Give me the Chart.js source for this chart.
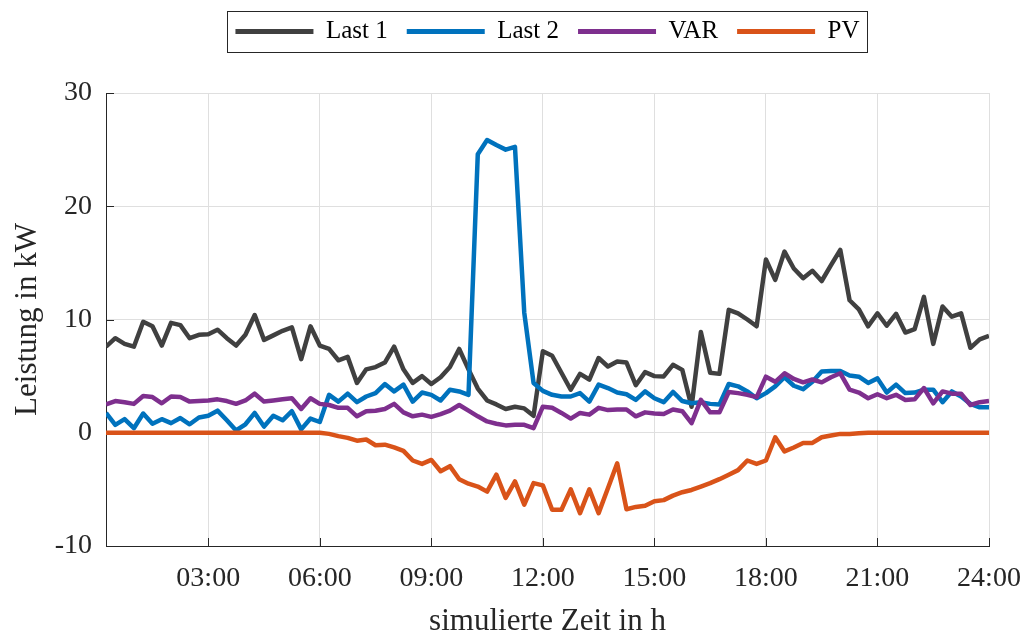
<!DOCTYPE html>
<html lang="de">
<head>
<meta charset="utf-8">
<title>Leistung über den Tag</title>
<script src="https://cdn.jsdelivr.net/npm/chart.js@4/dist/chart.umd.min.js"></script>
<style>
  html, body { margin: 0; padding: 0; background: #ffffff; }
  #wrap { width: 1024px; height: 640px; }
</style>
</head>
<body>
<div id="wrap"><canvas id="chart" width="1024" height="640"></canvas></div>
<script>
// Quarter-hour samples from 00:15 to 24:00 (96 values per series), in kW
const SLOT_HOURS = 0.25;

const lastOne = [
  7.6, 8.35, 7.85, 7.6, 9.8, 9.4, 7.7, 9.7, 9.5, 8.35, 8.65, 8.7,
  9.1, 8.35, 7.7, 8.65, 10.4, 8.2, 8.6, 9.0, 9.3, 6.5, 9.4, 7.7,
  7.4, 6.4, 6.7, 4.4, 5.6, 5.8, 6.2, 7.6, 5.6, 4.4, 5.0, 4.3,
  4.9, 5.8, 7.4, 5.6, 3.9, 2.85, 2.5, 2.1, 2.3, 2.15, 1.5, 7.2,
  6.8, 5.3, 3.8, 5.2, 4.7, 6.6, 5.85, 6.3, 6.2, 4.2, 5.35, 5.0,
  4.97, 6.0, 5.55, 2.3, 8.9, 5.3, 5.2, 10.85, 10.55, 10.0, 9.4, 15.3,
  13.5, 16.0, 14.5, 13.65, 14.3, 13.4, 14.8, 16.15, 11.7, 10.9, 9.4, 10.55,
  9.45, 10.5, 8.85, 9.15, 12.0, 7.85, 11.15, 10.25, 10.55, 7.5, 8.25, 8.55
];

const lastTwo = [
  1.75, 0.7, 1.2, 0.4, 1.7, 0.8, 1.2, 0.85, 1.3, 0.75, 1.35, 1.5,
  1.95, 1.1, 0.2, 0.75, 1.75, 0.55, 1.5, 1.1, 1.9, 0.3, 1.25, 0.95,
  3.35, 2.75, 3.45, 2.7, 3.2, 3.5, 4.3, 3.65, 4.25, 2.75, 3.55, 3.35,
  2.85, 3.8, 3.65, 3.35, 24.6, 25.85, 25.4, 25.0, 25.25, 10.6, 4.4, 3.7,
  3.35, 3.2, 3.2, 3.5, 2.75, 4.25, 3.95, 3.55, 3.4, 2.9, 3.65, 3.05,
  2.7, 3.6, 2.8, 2.6, 2.7, 2.55, 2.5, 4.3, 4.1, 3.65, 3.05, 3.5,
  4.1, 4.9, 4.15, 3.85, 4.5, 5.4, 5.45, 5.45, 5.05, 4.95, 4.4, 4.8,
  3.55, 4.25, 3.5, 3.55, 3.8, 3.8, 2.7, 3.65, 3.2, 2.55, 2.25, 2.25
];

const varLoad = [
  2.5, 2.8, 2.7, 2.55, 3.25, 3.15, 2.6, 3.2, 3.15, 2.75, 2.8, 2.85,
  2.95, 2.8, 2.55, 2.85, 3.45, 2.75, 2.85, 2.95, 3.05, 2.1, 3.05, 2.55,
  2.45, 2.2, 2.2, 1.45, 1.9, 1.95, 2.1, 2.55, 1.8, 1.45, 1.6, 1.4,
  1.65, 1.95, 2.45, 1.95, 1.45, 1.0, 0.8, 0.65, 0.7, 0.7, 0.4, 2.3,
  2.2, 1.75, 1.25, 1.75, 1.6, 2.2, 2.0, 2.05, 2.05, 1.45, 1.8, 1.7,
  1.65, 2.05, 1.9, 0.85, 2.9, 1.8, 1.8, 3.6, 3.5, 3.35, 3.15, 4.95,
  4.5, 5.25, 4.75, 4.45, 4.7, 4.45, 4.9, 5.25, 3.8, 3.55, 3.05, 3.4,
  3.05, 3.35, 2.9, 2.95, 3.95, 2.6, 3.65, 3.45, 3.45, 2.45, 2.7, 2.8
];

const pvPower = [
  0, 0, 0, 0, 0, 0, 0, 0, 0, 0, 0, 0,
  0, 0, 0, 0, 0, 0, 0, 0, 0, 0, 0, 0,
  -0.1, -0.3, -0.45, -0.7, -0.6, -1.1, -1.05, -1.3, -1.6, -2.45, -2.75, -2.4,
  -3.4, -2.95, -4.1, -4.5, -4.75, -5.2, -3.7, -5.75, -4.3, -6.35, -4.45, -4.65,
  -6.8, -6.8, -5.0, -7.1, -5.0, -7.1, -4.9, -2.7, -6.75, -6.55, -6.45, -6.05,
  -5.95, -5.55, -5.25, -5.05, -4.75, -4.45, -4.1, -3.7, -3.3, -2.45, -2.75, -2.45,
  -0.4, -1.65, -1.3, -0.9, -0.9, -0.4, -0.25, -0.1, -0.1, -0.05, 0, 0,
  0, 0, 0, 0, 0, 0, 0, 0, 0, 0, 0, 0
];

const seriesNames = ['Last 1', 'Last 2', 'VAR', 'PV'];
const seriesColors = ['#404040', '#0072BD', '#7E2F8E', '#D95319'];

const tickHours = [3, 6, 9, 12, 15, 18, 21, 24];
const tickLabels = ['03:00', '06:00', '09:00', '12:00', '15:00', '18:00', '21:00', '24:00'];

const FONT = "'Liberation Serif', 'Times New Roman', serif";
const INK = '#262626';

function toPoints(values) {
  return values.map((v, i) => ({ x: (i + 1) * SLOT_HOURS, y: v }));
}

const allSeries = [lastOne, lastTwo, varLoad, pvPower];
const datasets = allSeries.map((values, k) => ({
  label: seriesNames[k],
  data: toPoints(values),
  borderColor: seriesColors[k],
  backgroundColor: seriesColors[k],
  borderWidth: 4.5,
  borderJoinStyle: 'round',
  pointRadius: 0,
  pointHoverRadius: 0,
  tension: 0,
  order: allSeries.length - k   // later series are drawn on top
}));

// Fixed legend band above the plot, framed by a thin box
const legendBand = {
  id: 'legendBand',
  beforeLayout(chart) {
    const lg = chart.legend;
    if (lg && !lg.__bandFixed) {
      const fit = lg.fit.bind(lg);
      lg.fit = function () { fit(); this.height = 93; };
      lg.__bandFixed = true;
    }
  },
  afterDraw(chart) {
    const lg = chart.legend;
    if (!lg || !lg.legendHitBoxes || !lg.legendHitBoxes.length) return;
    const hb = lg.legendHitBoxes;
    const first = hb[0], last = hb[hb.length - 1];
    const x0 = Math.round(first.left - 8) + 0.5;
    const x1 = Math.round(last.left + last.width + 7) + 0.5;
    const yc = first.top + first.height / 2;
    const y0 = Math.round(yc - 20.5) + 0.5;
    const y1 = Math.round(yc + 20.5) + 0.5;
    const ctx = chart.ctx;
    ctx.save();
    ctx.strokeStyle = INK;
    ctx.lineWidth = 1;
    ctx.strokeRect(x0, y0, x1 - x0, y1 - y0);
    ctx.restore();
  }
};

// Tick marks pointing into the plot area
const innerTicks = {
  id: 'innerTicks',
  beforeDatasetsDraw(chart) {
    const { ctx, chartArea: a, scales } = chart;
    const len = 8;
    ctx.save();
    ctx.strokeStyle = INK;
    ctx.lineWidth = 1;
    ctx.beginPath();
    scales.x.ticks.forEach(t => {
      const px = Math.round(scales.x.getPixelForValue(t.value)) + 0.5;
      ctx.moveTo(px, a.bottom);
      ctx.lineTo(px, a.bottom - len);
    });
    scales.y.ticks.forEach(t => {
      const py = Math.round(scales.y.getPixelForValue(t.value)) + 0.5;
      ctx.moveTo(a.left, py);
      ctx.lineTo(a.left + len, py);
    });
    ctx.stroke();
    ctx.restore();
  }
};

new Chart(document.getElementById('chart'), {
  type: 'line',
  data: { datasets },
  plugins: [legendBand, innerTicks],
  options: {
    responsive: false,
    animation: false,
    events: [],
    layout: { padding: { left: 0, right: 35, top: 0, bottom: 0 } },
    plugins: {
      tooltip: { enabled: false },
      legend: {
        display: true,
        position: 'top',
        fullSize: false,
        labels: {
          font: { family: FONT, size: 25 },
          color: '#000000',
          boxWidth: 78,
          boxHeight: 5,
          padding: 19,
          sort: (a, b) => a.datasetIndex - b.datasetIndex,
          generateLabels(chart) {
            return Chart.defaults.plugins.legend.labels.generateLabels(chart)
              .map(item => Object.assign(item, { lineWidth: 0 }));
          }
        }
      }
    },
    scales: {
      x: {
        type: 'linear',
        min: SLOT_HOURS,
        max: 24,
        afterBuildTicks(scale) {
          scale.ticks = tickHours.map(v => ({ value: v }));
        },
        afterFit(scale) {
          scale.height = 94;
          scale.paddingLeft = 0;
          scale.paddingRight = 0;
        },
        ticks: {
          autoSkip: false,
          maxRotation: 0,
          padding: 16,
          color: INK,
          font: { family: FONT, size: 28 },
          callback: (value) => {
            const i = tickHours.indexOf(value);
            return i >= 0 ? tickLabels[i] : '';
          }
        },
        grid: { color: '#dfdfdf', lineWidth: 1, drawTicks: false },
        border: { display: true, color: INK, width: 1 },
        title: {
          display: true,
          text: 'simulierte Zeit in h',
          color: INK,
          font: { family: FONT, size: 31 },
          padding: { top: 0, bottom: 0 }
        }
      },
      y: {
        type: 'linear',
        min: -10,
        max: 30,
        afterFit(scale) { scale.width = 106; },
        ticks: {
          stepSize: 10,
          padding: 14,
          color: INK,
          font: { family: FONT, size: 28 }
        },
        grid: { color: '#dfdfdf', lineWidth: 1, drawTicks: false },
        border: { display: true, color: INK, width: 1 },
        title: {
          display: true,
          text: 'Leistung in kW',
          color: INK,
          font: { family: FONT, size: 31 },
          padding: { top: 9, bottom: 0 }
        }
      }
    }
  }
});
</script>
</body>
</html>
